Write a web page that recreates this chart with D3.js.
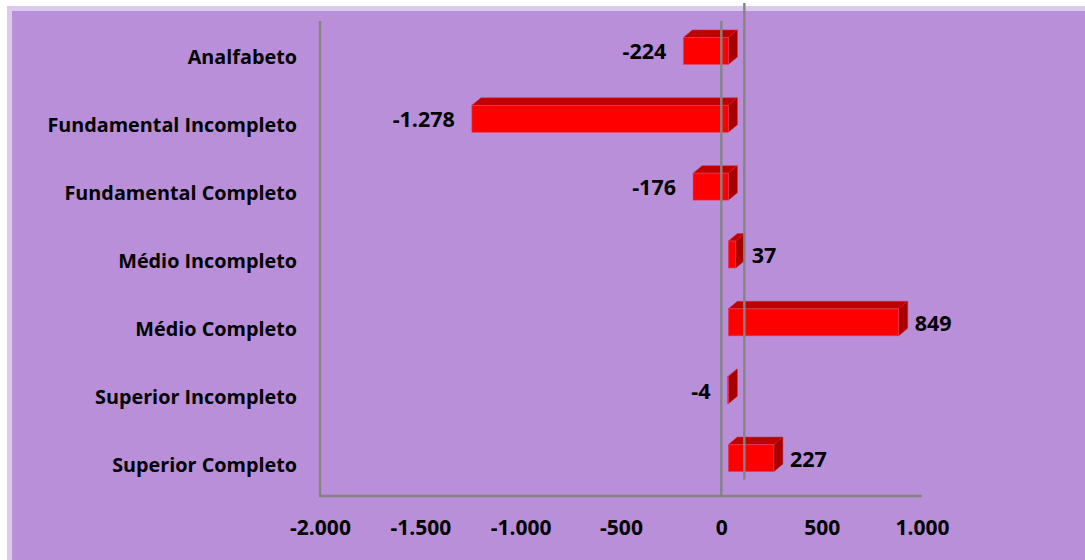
<!DOCTYPE html>
<html>
<head>
<meta charset="utf-8">
<script src="https://cdn.jsdelivr.net/npm/d3@7"></script>
<style>
  html, body { margin: 0; padding: 0; background: #ffffff; }
  svg { display: block; }
</style>
</head>
<body>
<svg id="chart" width="1085" height="560"></svg>
<script>
// Saldo por escolaridade
const categories = [
  "Analfabeto",
  "Fundamental Incompleto",
  "Fundamental Completo",
  "Médio Incompleto",
  "Médio Completo",
  "Superior Incompleto",
  "Superior Completo"
];
const values = [-224, -1278, -176, 37, 849, -4, 227];
const tickValues = [-2000, -1500, -1000, -500, 0, 500, 1000];

// thousands separated by a dot
const fmt = v => d3.format(",")(v).replace(/,/g, ".").replace("−", "-");

const svg = d3.select("#chart");
const W = 1085, H = 560;

// panel background with a light frame on top/left
svg.append("rect").attr("x", 7).attr("y", 6).attr("width", W).attr("height", H)
  .attr("fill", "#DCC9EE");
svg.append("rect").attr("x", 12).attr("y", 11).attr("width", W).attr("height", H)
  .attr("fill", "#B88FD8");

// front-plane scales
const x = d3.scaleLinear().domain([-2000, 1000]).range([320, 922]);
const y = d3.scaleBand().domain(categories).range([17, 492]).padding(0);

const plotTop = 21, plotBottom = 496;
const depth = { dx: 23, dy: -16.5 };      // wall depth
const barShift = 7;                       // bar front plane offset from axis plane
const barDepth = { dx: 9, dy: -7.5 };     // bar thickness in depth
const barH = 27;

const xb = v => x(v) + barShift;

// bars
const bars = svg.append("g");
categories.forEach((c, i) => {
  const v = values[i];
  const x0 = xb(Math.min(0, v)), x1 = xb(Math.max(0, v));
  const cy = y(c) + y.bandwidth() / 2;
  const top = cy - barH / 2, bot = cy + barH / 2;
  const g = bars.append("g");
  // top face
  g.append("path")
    .attr("d", `M${x0},${top}L${x1},${top}L${x1 + barDepth.dx},${top + barDepth.dy}L${x0 + barDepth.dx},${top + barDepth.dy}Z`)
    .attr("fill", "#C00000").attr("stroke", "#D63040").attr("stroke-width", 0.5);
  // side face
  g.append("path")
    .attr("d", `M${x1},${top}L${x1 + barDepth.dx},${top + barDepth.dy}L${x1 + barDepth.dx},${bot + barDepth.dy}L${x1},${bot}Z`)
    .attr("fill", "#A80000").attr("stroke", "#C02030").attr("stroke-width", 0.5);
  // front face
  g.append("rect")
    .attr("x", x0).attr("y", top).attr("width", Math.max(0.8, x1 - x0)).attr("height", barH)
    .attr("fill", "#FF0000").attr("stroke", "#E8405A").attr("stroke-width", 0.6);
});

// axis lines
const lineColor = "#848484";
const axes = svg.append("g").attr("stroke", lineColor).attr("stroke-width", 2.4).attr("fill", "none");
axes.append("line").attr("x1", x(-2000)).attr("x2", x(-2000)).attr("y1", plotTop).attr("y2", plotBottom);
axes.append("line").attr("x1", x(-2000) - 1.2).attr("x2", x(1000)).attr("y1", plotBottom).attr("y2", plotBottom);
axes.append("line").attr("x1", x(0)).attr("x2", x(0)).attr("y1", plotTop).attr("y2", plotBottom);
axes.append("line").attr("x1", x(0) + depth.dx).attr("x2", x(0) + depth.dx)
  .attr("y1", plotTop + depth.dy - 1.5).attr("y2", plotBottom + depth.dy);

// value axis labels
const xAxis = d3.axisBottom(x).tickValues(tickValues).tickSize(0).tickPadding(0).tickFormat(fmt);
const gx = svg.append("g").attr("transform", `translate(0,${plotBottom})`).call(xAxis);
gx.select(".domain").remove();
gx.selectAll("text")
  .attr("y", 39).attr("dy", null)
  .attr("fill", "#000").attr("font-family", "'Open Sans', sans-serif")
  .attr("font-weight", "bold").attr("font-size", 21);

// category labels
svg.append("g").selectAll("text").data(categories).join("text")
  .attr("x", 297)
  .attr("y", c => y(c) + y.bandwidth() / 2 + 13.5)
  .attr("text-anchor", "end")
  .attr("fill", "#000")
  .attr("font-family", "'Open Sans', sans-serif")
  .attr("font-weight", "bold")
  .attr("font-size", 19.8)
  .text(c => c);

// value labels
svg.append("g").selectAll("text").data(values).join("text")
  .attr("x", v => v < 0 ? xb(v) - 17 : xb(v) + 16)
  .attr("y", (v, i) => y(categories[i]) + y.bandwidth() / 2 + 8.5)
  .attr("text-anchor", v => v < 0 ? "end" : "start")
  .attr("fill", "#000")
  .attr("font-family", "'Open Sans', sans-serif")
  .attr("font-weight", "bold")
  .attr("font-size", 21.5)
  .text(fmt);
</script>
</body>
</html>
